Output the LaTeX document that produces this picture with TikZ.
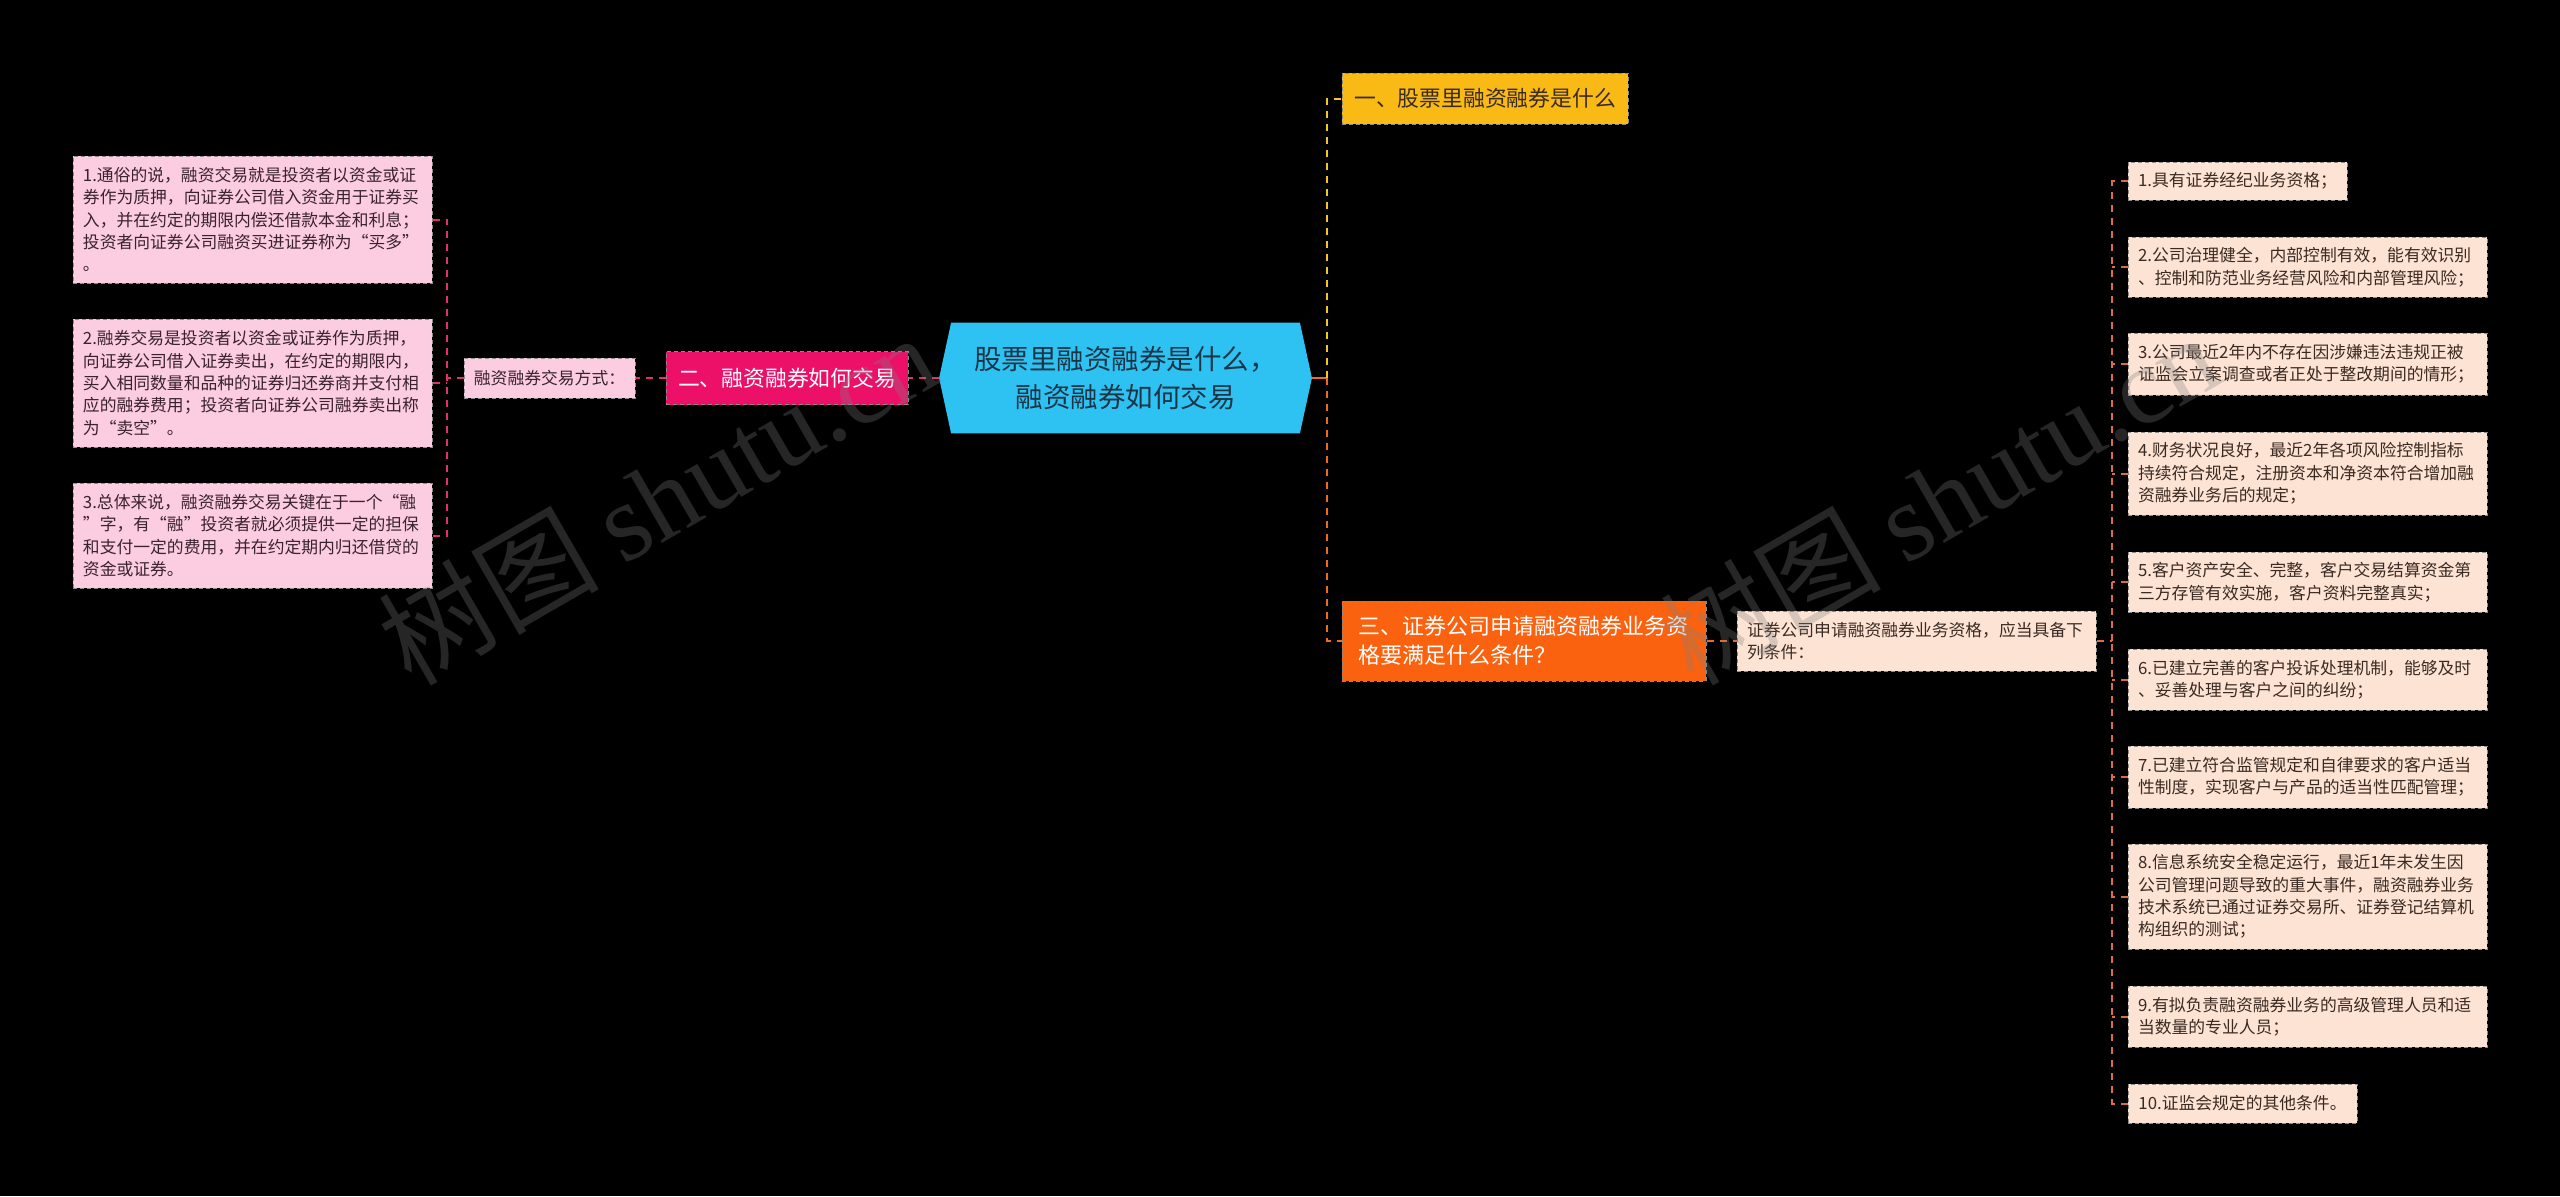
\documentclass[tikz,border=0pt]{standalone}
\usepackage{fontspec}
\setmainfont{Noto Sans CJK SC}
\newfontfamily\wmlatin{Liberation Serif}
\usetikzlibrary{backgrounds}
\definecolor{pinkfill}{HTML}{FCCCE0}
\definecolor{hotpink}{HTML}{EC1068}
\definecolor{pinkline}{HTML}{E0306E}
\definecolor{cyanfill}{HTML}{2EC2F2}
\definecolor{centertxt}{HTML}{1B3547}
\definecolor{yellowfill}{HTML}{F9BA16}
\definecolor{yellowline}{HTML}{F5C52A}
\definecolor{orangefill}{HTML}{FA6210}
\definecolor{orangeline}{HTML}{EE6A22}
\definecolor{itemline}{HTML}{DC6C46}
\definecolor{peach}{HTML}{FDE3D4}
\definecolor{darktxt}{HTML}{3A2230}
\definecolor{browntxt}{HTML}{3A2A22}
\definecolor{wmgray}{HTML}{808080}
\begin{document}
\begin{tikzpicture}[x=0.5pt,y=-0.5pt,
  box/.style={draw=black!45, dash pattern=on 2pt off 1.5pt, line width=0.5pt, anchor=center, inner ysep=0pt},
  smallfont/.style={font=\fontsize{8.4pt}{11.2pt}\selectfont},
  leftbox/.style={box, smallfont, fill=pinkfill, text=darktxt, text width=169.5pt, inner xsep=5pt, minimum width=179.5pt, align=left},
  itembox/.style={box, smallfont, fill=peach, text=browntxt, text width=169.5pt, inner xsep=5pt, minimum width=179.5pt, align=left},
  itemone/.style={box, smallfont, fill=peach, text=browntxt, inner xsep=5pt},
  conn/.style={line width=1pt, dash pattern=on 3.5pt off 3pt},
  pinkln/.style={conn, draw=pinkline},
  yellowln/.style={conn, draw=yellowline},
  orangeln/.style={conn, draw=orangeline},
  itemln/.style={conn, draw=itemline},
  wmark/.style={text=wmgray, opacity=0.3, rotate=30, anchor=center, inner sep=0pt}
]
\path[use as bounding box] (0,0) rectangle (2560,1196);

% central node
\node[anchor=center, minimum width=186pt, minimum height=55pt, inner sep=0pt, align=center, text=centertxt,
  font=\fontsize{13.75pt}{19pt}\selectfont] (c) at (1125.5,378) {股票里融资融券是什么，\\融资融券如何交易};

% left side
\node[box, fill=hotpink, text=white, font=\fontsize{10.9pt}{14pt}\selectfont, minimum width=121pt, minimum height=26.5pt] (er) at (787,378) {二、融资融券如何交易};
\node[box, smallfont, fill=pinkfill, text=darktxt, minimum width=85.5pt, minimum height=20pt] (fs) at (549.5,378) {融资融券交易方式：};
\node[leftbox, minimum height=63.5pt] (l1) at (252.5,219.5) {1.通俗的说，融资交易就是投资者以资金或证\\券作为质押，向证券公司借入资金用于证券买\\入，并在约定的期限内偿还借款本金和利息；\\投资者向证券公司融资买进证券称为“买多”\\。};
\node[leftbox, minimum height=64pt] (l2) at (252.5,383) {2.融券交易是投资者以资金或证券作为质押，\\向证券公司借入证券卖出，在约定的期限内，\\买入相同数量和品种的证券归还券商并支付相\\应的融券费用；投资者向证券公司融券卖出称\\为“卖空”。};
\node[leftbox, minimum height=52.5pt] (l3) at (252.5,535.5) {3.总体来说，融资融券交易关键在于一个“融\\”字，有“融”投资者就必须提供一定的担保\\和支付一定的费用，并在约定期内归还借贷的\\资金或证券。};

% right side
\node[box, fill=yellowfill, text=browntxt, font=\fontsize{10.9pt}{14pt}\selectfont, minimum width=143pt, minimum height=25.5pt] (y1) at (1485,98.5) {一、股票里融资融券是什么};
\node[box, fill=orangefill, text=white, font=\fontsize{11pt}{14.5pt}\selectfont, text width=166pt, inner xsep=8pt, minimum width=182pt, minimum height=40pt, align=left] (o3) at (1524,641) {三、证券公司申请融资融券业务资\\格要满足什么条件？};
\node[itembox, minimum height=30pt] (pe) at (1916.5,641) {证券公司申请融资融券业务资格，应当具备下\\列条件：};

\node[itemone, minimum width=109.5pt, minimum height=19pt] (r1) at (2237.5,181) {1.具有证券经纪业务资格；};
\node[itembox, minimum height=30pt] (r2) at (2307.5,267) {2.公司治理健全，内部控制有效，能有效识别\\、控制和防范业务经营风险和内部管理风险；};
\node[itembox, minimum height=31pt] (r3) at (2307.5,364) {3.公司最近2年内不存在因涉嫌违法违规正被\\证监会立案调查或者正处于整改期间的情形；};
\node[itembox, minimum height=41.5pt] (r4) at (2307.5,473.5) {4.财务状况良好，最近2年各项风险控制指标\\持续符合规定，注册资本和净资本符合增加融\\资融券业务后的规定；};
\node[itembox, minimum height=30pt] (r5) at (2307.5,582) {5.客户资产安全、完整，客户交易结算资金第\\三方存管有效实施，客户资料完整真实；};
\node[itembox, minimum height=30.5pt] (r6) at (2307.5,679.5) {6.已建立完善的客户投诉处理机制，能够及时\\、妥善处理与客户之间的纠纷；};
\node[itembox, minimum height=31pt] (r7) at (2307.5,777) {7.已建立符合监管规定和自律要求的客户适当\\性制度，实现客户与产品的适当性匹配管理；};
\node[itembox, minimum height=52.5pt] (r8) at (2307.5,896.5) {8.信息系统安全稳定运行，最近1年未发生因\\公司管理问题导致的重大事件，融资融券业务\\技术系统已通过证券交易所、证券登记结算机\\构组织的测试；};
\node[itembox, minimum height=30.5pt] (r9) at (2307.5,1016.5) {9.有拟负责融资融券业务的高级管理人员和适\\当数量的专业人员；};
\node[itemone, minimum width=114.5pt, minimum height=19.5pt] (r10) at (2242.5,1103.5) {10.证监会规定的其他条件。};

% background and hexagon
\begin{scope}[on background layer]
  \fill[black] (0,0) rectangle (2560,1196);
  \fill[cyanfill] ([xshift=6pt]c.north west) -- ([xshift=-6pt]c.north east) -- (c.east)
     -- ([xshift=-6pt]c.south east) -- ([xshift=6pt]c.south west) -- (c.west) -- cycle;
\end{scope}

% left connectors
\coordinate (Lj) at (447,378);
\draw[pinkln] (c.west) -- (er.east);
\draw[pinkln] (er.west) -- (fs.east);
\draw[pinkln] (fs.west) -- (Lj);
\draw[pinkln] (l1.east) -| (Lj);
\draw[pinkln] (l3.east) -| (Lj);
\draw[pinkln] (l2.east) -- (l2.east -| Lj);

% right connectors
\coordinate (Hj) at (1327,378);
\draw[draw=orangeline, line width=1pt] (c.east) -- (Hj);
\draw[yellowln] (Hj) |- (y1.west);
\draw[orangeln] (Hj) |- (o3.west);
\draw[orangeln] (o3.east) -- (pe.west);
\coordinate (Rj) at (2112,641);
\draw[itemln] (pe.east) -- (Rj);
\draw[itemln] (r1.west) -| (Rj);
\draw[itemln] (r10.west) -| (Rj);
\foreach \i in {2,...,9} {\draw[itemln] (r\i.west) -- (r\i.west -| Rj);}

% watermarks
\node[wmark] (wm1) at (657,498) {\fontsize{55pt}{60pt}\selectfont 树图 {\wmlatin shutu.cn}};
\node[wmark] (wm2) at (1939,498) {\fontsize{55pt}{60pt}\selectfont 树图 {\wmlatin shutu.cn}};
\end{tikzpicture}
\end{document}
